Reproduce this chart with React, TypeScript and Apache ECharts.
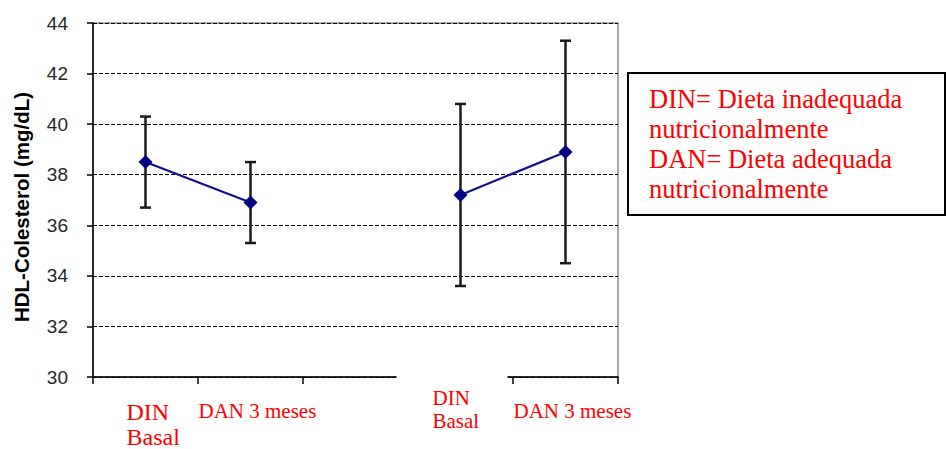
import React, { useEffect, useRef } from "react";
import * as echarts from "echarts";

// ---- data ----
const categories = ["DIN Basal (1)", "DAN 3 meses (1)", "", "DIN Basal (2)", "DAN 3 meses (2)"];
const categoryLabels = [["DIN", "Basal"], ["DAN 3 meses"], [], ["DIN", "Basal"], ["DAN 3 meses"]];
const means: (number | null)[] = [38.5, 36.9, null, 37.2, 38.9];
const lowerBounds: (number | null)[] = [36.7, 35.3, null, 33.6, 34.5];
const upperBounds: (number | null)[] = [40.3, 38.5, null, 40.8, 43.3];
const yTicks = { min: 30, max: 44, interval: 2 };
const yTitle = "HDL-Colesterol (mg/dL)";
const legendLines = [
  "DIN= Dieta inadequada",
  "nutricionalmente",
  "DAN= Dieta adequada",
  "nutricionalmente",
];

// ---- label layout (offsets relative to category centre) ----
const labelLayout = [
  { dx: -19, y: [412, 437], size: 24 },
  { dx: -52, y: [411], size: 21 },
  { dx: 0, y: [], size: 21 },
  { dx: -28, y: [398, 421], size: 21 },
  { dx: -52, y: [411], size: 21 },
];

const serif = "'Liberation Serif', 'Times New Roman', serif";

export default function App() {
  const ref = useRef<HTMLDivElement>(null);

  useEffect(() => {
    if (!ref.current) return;
    const chart = echarts.init(ref.current, undefined, { renderer: "svg" });

    const errData = categories
      .map((_, i) => [i, lowerBounds[i], upperBounds[i]])
      .filter((d) => d[1] != null);

    const option: any = {
      animation: false,
      backgroundColor: "#ffffff",
      grid: {
        left: 93,
        right: 328,
        top: 23,
        bottom: 72,
        show: true,
        borderColor: "#8a8a8a",
        borderWidth: 1.5,
        backgroundColor: "transparent",
      },
      xAxis: {
        type: "category",
        data: categories,
        boundaryGap: true,
        axisLine: { show: true, lineStyle: { color: "#000", width: 1.5 } },
        axisTick: { show: true, length: 7, interval: 0, lineStyle: { color: "#000", width: 1.5 } },
        axisLabel: { show: false },
        splitLine: { show: false },
      },
      yAxis: {
        type: "value",
        min: yTicks.min,
        max: yTicks.max,
        interval: yTicks.interval,
        axisLine: { show: true, lineStyle: { color: "#000", width: 1.5 } },
        axisTick: { show: true, length: 6, lineStyle: { color: "#000", width: 1.5 } },
        axisLabel: {
          margin: 25,
          fontFamily: "'Liberation Sans', Arial, sans-serif",
          fontSize: 19,
          color: "#262626",
        },
        splitLine: { show: true, lineStyle: { color: "#000", type: [4, 2], width: 1 } },
      },
      series: [
        {
          type: "custom",
          name: "err",
          data: errData,
          z: 3,
          renderItem: (params: any, api: any) => {
            const x = api.value(0);
            const lo = api.coord([x, api.value(1)]);
            const hi = api.coord([x, api.value(2)]);
            const hw = 5.5;
            const st = { stroke: "#1a1a1a", lineWidth: 2.5 };
            return {
              type: "group",
              children: [
                { type: "line", shape: { x1: lo[0], y1: lo[1], x2: hi[0], y2: hi[1] }, style: st },
                { type: "line", shape: { x1: lo[0] - hw, y1: lo[1], x2: lo[0] + hw, y2: lo[1] }, style: st },
                { type: "line", shape: { x1: hi[0] - hw, y1: hi[1], x2: hi[0] + hw, y2: hi[1] }, style: st },
              ],
            };
          },
        },
        {
          type: "line",
          data: means,
          connectNulls: false,
          symbol: "diamond",
          symbolSize: 14,
          z: 4,
          lineStyle: { color: "#10108f", width: 2.2 },
          itemStyle: { color: "#000080" },
        },
      ],
    };

    chart.setOption(option);

    const graphics: any[] = [];
    // cover for interrupted x axis
    const x3 = chart.convertToPixel({ xAxisIndex: 0 }, 3) as number;
    graphics.push({
      type: "rect",
      shape: { x: x3 - 64, y: 373, width: 111, height: 14 },
      style: { fill: "#ffffff" },
      z: 10,
    });
    categoryLabels.forEach((lines, i) => {
      const cx = chart.convertToPixel({ xAxisIndex: 0 }, i) as number;
      lines.forEach((t, j) => {
        graphics.push({
          type: "text",
          x: cx + labelLayout[i].dx,
          y: labelLayout[i].y[j],
          z: 11,
          style: {
            text: t,
            fill: "#ff0000",
            fontFamily: serif,
            fontSize: labelLayout[i].size,
            lineHeight: labelLayout[i].size,
            align: "left",
            verticalAlign: "middle",
          },
        });
      });
    });
    // y axis title
    graphics.push({
      type: "text",
      x: 21,
      y: 207,
      rotation: Math.PI / 2,
      z: 11,
      style: {
        text: yTitle,
        fill: "#000",
        fontFamily: "'Liberation Sans', Arial, sans-serif",
        fontWeight: "bold",
        fontSize: 20.5,
        align: "center",
        verticalAlign: "middle",
      },
    });
    // legend box
    graphics.push({
      type: "rect",
      shape: { x: 628, y: 73, width: 317, height: 142 },
      style: { fill: "#fff", stroke: "#000", lineWidth: 2 },
      z: 10,
    });
    legendLines.forEach((t, j) => {
      graphics.push({
        type: "text",
        x: 649,
        y: 99 + j * 30,
        z: 11,
        style: {
          text: t,
          fill: "#ff0000",
          fontFamily: serif,
          fontSize: 26.5,
          align: "left",
          verticalAlign: "middle",
        },
      });
    });

    chart.setOption({ graphic: graphics });

    return () => chart.dispose();
  }, []);

  return <div ref={ref} style={{ width: 946, height: 449, position: "absolute", left: 0, top: 0 }} />;
}
